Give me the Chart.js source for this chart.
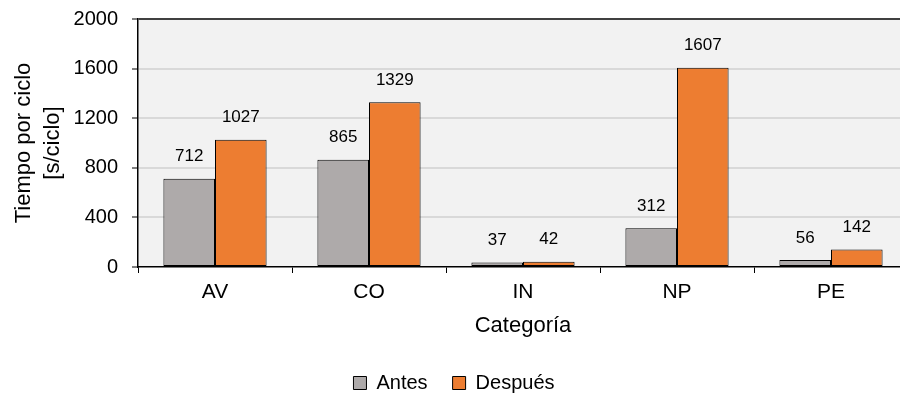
<!DOCTYPE html>
<html>
<head>
<meta charset="utf-8">
<title>Tiempo por ciclo</title>
<script src="https://cdn.jsdelivr.net/npm/chart.js@4/dist/chart.umd.min.js"></script>
<style>
  html, body { margin: 0; padding: 0; background: #fff; overflow: hidden; }
</style>
</head>
<body>
<canvas id="cycleChart" width="924" height="396"></canvas>
<script>
const categories = ['AV', 'CO', 'IN', 'NP', 'PE'];
const antes = [712, 865, 37, 312, 56];
const despues = [1027, 1329, 42, 1607, 142];
const yTicks = [0, 400, 800, 1200, 1600, 2000];

const FONT = '"Liberation Sans", Arial, sans-serif';

// light grey fill behind the plot area
const plotBackground = {
  id: 'plotBackground',
  beforeDraw(chart) {
    const { ctx, chartArea } = chart;
    ctx.save();
    ctx.fillStyle = '#f2f2f2';
    ctx.fillRect(chartArea.left, chartArea.top, chartArea.right - chartArea.left, chartArea.bottom - chartArea.top);
    ctx.restore();
  }
};

// value written above every bar
const valueLabels = {
  id: 'valueLabels',
  afterDatasetsDraw(chart) {
    const ctx = chart.ctx;
    ctx.save();
    ctx.font = '17px ' + FONT;
    ctx.fillStyle = '#000';
    ctx.textAlign = 'center';
    ctx.textBaseline = 'middle';
    chart.data.datasets.forEach((ds, i) => {
      chart.getDatasetMeta(i).data.forEach((bar, j) => {
        ctx.fillText(String(ds.data[j]), bar.x, bar.y - 22);
      });
    });
    ctx.restore();
  }
};

new Chart(document.getElementById('cycleChart'), {
  type: 'bar',
  data: {
    labels: categories,
    datasets: [
      {
        label: 'Antes',
        data: antes,
        backgroundColor: '#aeaaaa',
        borderColor: '#000',
        borderWidth: 1,
        borderSkipped: false
      },
      {
        label: 'Después',
        data: despues,
        backgroundColor: '#ed7d31',
        borderColor: '#000',
        borderWidth: 1,
        borderSkipped: false
      }
    ]
  },
  options: {
    responsive: false,
    animation: false,
    categoryPercentage: 0.67,
    barPercentage: 1,
    layout: { padding: { top: 19, right: 16, left: 0, bottom: 0 } },
    plugins: {
      tooltip: { enabled: false },
      legend: {
        position: 'bottom',
        maxHeight: 48,
        labels: {
          color: '#000',
          font: { family: FONT, size: 20 },
          boxWidth: 13,
          boxHeight: 13,
          padding: 25
        }
      }
    },
    scales: {
      x: {
        offset: true,
        afterFit: (scale) => { scale.height = 81; },
        border: { display: true, color: '#000', width: 1.5 },
        grid: {
          offset: true,
          drawOnChartArea: false,
          drawTicks: true,
          tickLength: 6,
          tickColor: '#000',
          tickWidth: 1
        },
        ticks: {
          color: '#000',
          padding: 7,
          font: { family: FONT, size: 21 }
        },
        title: {
          display: true,
          text: 'Categoría',
          color: '#000',
          font: { family: FONT, size: 22 },
          padding: { top: 0, bottom: 9 }
        }
      },
      y: {
        min: 0,
        max: 2000,
        afterFit: (scale) => {
          scale.width = 138;
          // keep the tick labels from pushing the plot area down
          scale.paddingTop = 0;
          scale.paddingBottom = 0;
        },
        afterBuildTicks: (scale) => { scale.ticks = yTicks.map(v => ({ value: v })); },
        border: { display: true, color: '#000', width: 1.5 },
        grid: {
          color: (c) => c.tick && c.tick.value === 2000 ? '#404040' : (c.tick && c.tick.value === 0 ? 'rgba(0,0,0,0)' : '#d9d9d9'),
          lineWidth: 2,
          drawTicks: true,
          tickLength: 6,
          tickColor: '#000',
          tickWidth: 1
        },
        ticks: {
          color: '#000',
          padding: 14,
          font: { family: FONT, size: 20 },
          callback: (value) => String(value)
        },
        title: {
          display: true,
          text: ['Tiempo por ciclo', '[s/ciclo]'],
          color: '#000',
          font: { family: FONT, size: 22, lineHeight: 1.3 },
          padding: { top: 10, bottom: 0 }
        }
      }
    }
  },
  plugins: [plotBackground, valueLabels]
});
</script>
</body>
</html>
